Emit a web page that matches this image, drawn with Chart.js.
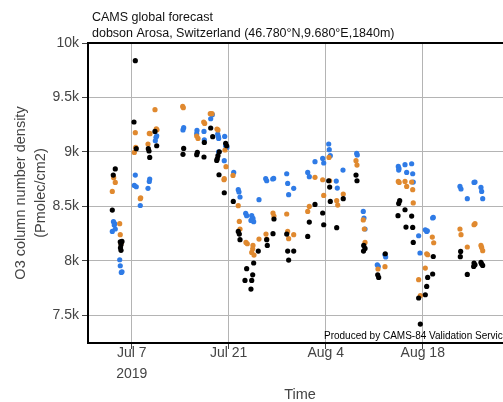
<!DOCTYPE html>
<html>
<head>
<meta charset="utf-8">
<script src="https://cdn.jsdelivr.net/npm/chart.js@4"></script>
<style>
  html, body { margin: 0; padding: 0; background: #fff; }
  #wrap { width: 503px; height: 402px; overflow: hidden; position: relative; }
  canvas { display: block; }
</style>
</head>
<body>
<div id="wrap"><canvas id="c" width="530" height="402"></canvas></div>
<script>
// x values: day of July 2019 (Aug 1 = 32)
const xTickDays = [7, 21, 35, 49];
const xTickLabels = [['Jul 7', '2019'], 'Jul 21', 'Aug 4', 'Aug 18'];
const yTicks = [7500, 8000, 8500, 9000, 9500, 10000];

const blackX = [4.63,4.34,4.20,5.35,5.60,5.46,5.38,5.46,7.52,7.33,7.66,9.40,9.50,9.60,10.36,10.61,14.50,14.40,16.47,16.38,17.48,17.43,18.40,18.69,19.64,19.45,19.35,19.27,19.60,20.56,20.71,20.36,21.66,22.38,22.53,22.63,23.59,23.35,24.60,24.46,24.32,24.21,25.27,26.48,26.57,27.53,27.39,29.37,29.51,29.65,30.38,32.63,32.40,33.45,34.56,34.71,35.43,35.57,35.66,36.58,37.53,39.37,39.51,40.48,40.67,40.45,42.50,42.64,43.59,45.67,45.53,45.43,46.44,46.58,47.40,47.55,47.63,48.41,48.65,49.37,49.57,49.71,50.52,50.43,54.47,54.42,55.43,56.40,56.54,56.35,57.40,57.50,57.65];
const blackY = [8844,8788,8467,8176,8179,8149,8121,8097,9838,9275,9030,9030,9009,8950,9189,9057,9033,8978,8996,8975,9088,8954,9220,9140,9002,8966,8938,8922,8791,9079,9057,8626,8546,8271,8247,8195,7929,7821,7981,7873,7821,7742,8091,8195,8142,8385,8250,8247,8091,8008,8091,8357,8225,8519,8440,8332,8736,8678,8546,8305,8571,8788,8736,8142,8115,8091,7873,7849,8066,8553,8528,8415,8470,8311,8412,8308,8170,7660,7421,7690,7766,7849,8041,7880,8087,8039,7876,7981,7965,7950,7986,7972,7959];

const orangeX = [4.40,4.63,4.20,5.27,5.35,5.53,5.46,7.52,7.58,7.38,8.24,8.30,9.35,9.54,9.64,10.36,10.55,10.65,14.36,14.45,16.38,16.57,17.39,17.53,18.34,18.59,19.31,19.45,20.46,20.61,20.36,20.32,21.62,22.38,22.53,22.63,23.49,23.68,24.50,24.46,24.32,24.65,25.37,26.38,26.48,27.39,27.53,29.37,29.51,29.65,30.38,32.40,32.63,33.45,34.56,34.71,35.47,35.57,36.58,36.73,37.53,39.37,39.51,40.42,40.57,40.67,42.54,43.55,45.47,45.60,46.44,46.68,47.40,47.55,47.63,48.41,48.65,49.37,49.57,49.71,50.38,50.58,54.37,54.52,55.43,56.40,56.54,57.40,57.50,57.65];
const orangeY = [8764,8721,8638,8342,8241,8176,8158,9177,9042,8996,8571,8580,9073,9170,9168,9388,9213,9204,9418,9406,9146,9124,9275,9262,9351,9351,9211,9202,9018,8865,8755,8745,8785,8507,8363,8293,8170,8158,8142,8112,8078,8054,8201,8247,8201,8440,8412,8431,8271,8204,8241,8454,8500,8767,8745,8601,8950,8736,8553,8513,8614,8920,8880,8376,8293,8170,7926,7947,8730,8721,8730,8684,8724,8654,8532,7828,7683,7935,8066,8057,8219,8167,8293,8241,8128,8332,8342,8142,8124,8094];

const blueX = [4.37,4.54,4.48,4.20,4.63,5.27,5.35,5.50,5.60,7.52,7.38,7.66,8.24,9.60,9.54,9.35,10.51,10.61,10.41,14.50,14.40,16.42,16.38,17.43,17.48,18.40,18.63,19.41,19.50,19.55,19.55,20.42,20.56,20.75,20.36,21.72,22.38,22.48,22.63,23.45,23.59,24.32,24.50,24.60,24.21,25.37,26.34,26.48,27.35,27.49,29.37,29.51,29.65,30.38,32.40,32.63,33.45,34.56,34.71,35.43,35.51,35.66,36.52,36.67,37.49,39.47,39.55,40.42,40.52,40.67,42.44,42.58,43.55,43.65,45.47,45.57,45.53,46.44,46.68,47.40,47.55,47.63,48.41,48.60,49.37,49.57,49.66,50.52,50.43,54.37,54.52,55.43,56.40,56.54,57.40,57.50,57.65];
const blueY = [8360,8342,8330,8271,8293,8011,7956,7895,7901,8788,8693,8681,8509,8752,8730,8666,9134,9149,9103,9223,9202,9198,9168,9189,9112,9305,9342,9164,9143,9124,9002,9143,9057,9042,8920,8812,8654,8633,8587,8436,8415,8415,8390,8360,8372,8562,8755,8736,8752,8757,8800,8711,8608,8666,8812,8773,8911,8941,8899,9073,9021,8966,8733,8669,8834,8987,8972,8454,8394,8293,7965,7950,8057,8036,8867,8849,8834,8883,8812,8892,8800,8724,8231,8073,8286,8271,8277,8399,8394,8684,8660,8571,8721,8724,8675,8638,8571];

const titleLines = ['CAMS global forecast', 'dobson Arosa, Switzerland (46.780°N,9.680°E,1840m)'];
const yTitleLines = ['O3 column number density', '(Pmolec/cm2)'];
const footnote = 'Produced by CAMS-84 Validation Service';

const FONT = "'Liberation Sans', Arial, Helvetica, sans-serif";

function pts(xs, ys) { return xs.map((x, i) => ({ x: x, y: ys[i] })); }

const textPlugin = {
  id: 'texts',
  afterDraw(chart) {
    const ctx = chart.ctx;
    const a = chart.chartArea;
    ctx.save();
    // frame top & right
    ctx.strokeStyle = '#000';
    ctx.lineWidth = 2;
    ctx.beginPath();
    ctx.moveTo(a.left - 1, a.top);
    ctx.lineTo(a.right, a.top);
    ctx.lineTo(a.right, a.bottom);
    ctx.stroke();
    // main title
    ctx.fillStyle = '#111';
    ctx.font = '12.5px ' + FONT;
    ctx.textAlign = 'left';
    ctx.textBaseline = 'alphabetic';
    ctx.fillText(titleLines[0], 92, 20.5);
    ctx.fillText(titleLines[1], 92, 37.2);
    // footnote
    ctx.font = '10px ' + FONT;
    ctx.fillStyle = '#000';
    ctx.textAlign = 'left';
    ctx.fillText(footnote, 324, a.bottom - 4.5);
    ctx.restore();
  }
};

new Chart(document.getElementById('c'), {
  type: 'scatter',
  data: {
    datasets: [
      { label: 'obs', data: pts(blackX, blackY), backgroundColor: '#000000', pointRadius: 2.6, pointBorderWidth: 0, pointHoverRadius: 2.6 },
      { label: 'fc1', data: pts(orangeX, orangeY), backgroundColor: '#e0892f', pointRadius: 2.6, pointBorderWidth: 0, pointHoverRadius: 2.6 },
      { label: 'fc2', data: pts(blueX, blueY), backgroundColor: '#2f7be6', pointRadius: 2.6, pointBorderWidth: 0, pointHoverRadius: 2.6 }
    ]
  },
  options: {
    responsive: false,
    animation: false,
    events: [],
    layout: { padding: { top: 43, right: 18, bottom: 0, left: 0 } },
    plugins: { legend: { display: false }, tooltip: { enabled: false }, title: { display: false } },
    scales: {
      x: {
        type: 'linear',
        min: 0.694,
        max: 61.88,
        afterFit(s) { s.height = 59; },
        afterBuildTicks(s) { s.ticks = xTickDays.map(v => ({ value: v })); },
        grid: { color: '#b4b4b4', lineWidth: 1, tickColor: '#444', tickLength: 6 },
        border: { display: true, color: '#000', width: 2 },
        ticks: {
          autoSkip: false, maxRotation: 0, padding: -6, color: '#444',
          font: { family: FONT, size: 14, lineHeight: 1.47 },
          callback(v) { const i = xTickDays.indexOf(v); return i >= 0 ? xTickLabels[i] : ''; }
        },
        title: { display: true, text: 'Time', color: '#444', padding: { top: 0, bottom: 0 }, font: { family: FONT, size: 14.5, lineHeight: 0.9 } }
      },
      y: {
        type: 'linear',
        min: 7247,
        max: 10000,
        afterFit(s) { s.width = 88; },
        afterBuildTicks(s) { s.ticks = yTicks.map(v => ({ value: v })); },
        grid: { color: '#b4b4b4', lineWidth: 1, tickColor: '#444', tickLength: 6 },
        border: { display: true, color: '#000', width: 2 },
        ticks: {
          padding: 3, color: '#444',
          font: { family: FONT, size: 14 },
          callback(v) { return (v / 1000) + 'k'; }
        },
        title: { display: true, text: yTitleLines, color: '#444', padding: { top: 11, bottom: 0 }, font: { family: FONT, size: 14.5, lineHeight: 1.38 } }
      }
    }
  },
  plugins: [textPlugin]
});
</script>
</body>
</html>
